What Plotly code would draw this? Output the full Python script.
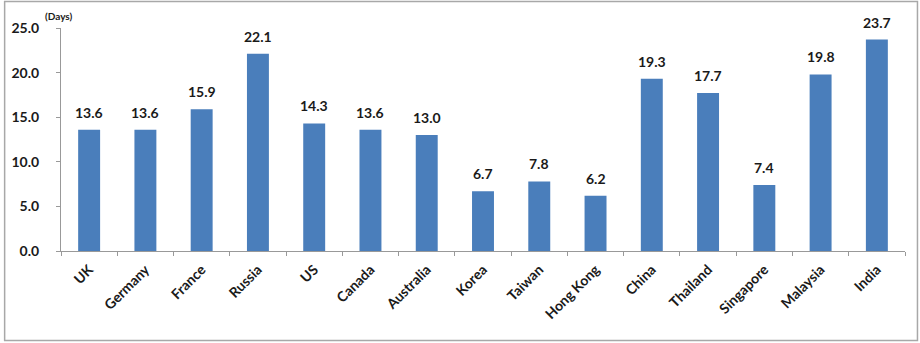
import plotly.graph_objects as go

categories = ["UK", "Germany", "France", "Russia", "US", "Canada", "Australia", "Korea",
              "Taiwan", "Hong Kong", "China", "Thailand", "Singapore", "Malaysia", "India"]
days = [13.6, 13.6, 15.9, 22.1, 14.3, 13.6, 13.0, 6.7, 7.8, 6.2, 19.3, 17.7, 7.4, 19.8, 23.7]
y_ticks = [0, 5, 10, 15, 20, 25]
y_tick_labels = ["0.0", "5.0", "10.0", "15.0", "20.0", "25.0"]

W, H = 920, 343
L, R, T, B = 59, 15, 28, 92
pw, ph = W - L - R, H - T - B

def px(x):
    return (x - L) / pw

def py(y):
    return (H - B - y) / ph

font = "Lato, 'Open Sans', Arial, sans-serif"

fig = go.Figure(go.Bar(
    x=categories, y=days,
    marker=dict(color="#4A7EBB", line=dict(width=0)),
    width=0.39,
))

annotations = [dict(x=c, y=v, xref="x", yref="y", text=f"{v:.1f}",
                    showarrow=False, yanchor="bottom", yshift=7,
                    font=dict(family=font, size=14, color="#1a1a1a", weight="bold"))
               for c, v in zip(categories, days)]
annotations.append(dict(text="(Days)", xref="paper", yref="paper",
                        x=px(41), y=py(16), xanchor="left", yanchor="middle",
                        showarrow=False,
                        font=dict(family=font, size=10, color="#1a1a1a", weight="bold")))

fig.update_layout(
    width=W, height=H,
    margin=dict(l=L, r=R, t=T, b=B),
    paper_bgcolor="white", plot_bgcolor="white",
    showlegend=False,
    xaxis=dict(
        type="category", tickangle=-45, tickson="boundaries",
        ticks="outside", ticklen=4, tickcolor="#999999",
        showline=True, linecolor="#999999", linewidth=1,
        showgrid=False, ticklabelstandoff=4,
        tickfont=dict(family=font, size=14, color="#1a1a1a", weight="bold"),
    ),
    yaxis=dict(
        range=[0, 25], tickvals=y_ticks, ticktext=y_tick_labels,
        ticks="outside", ticklen=4, tickcolor="#999999",
        showline=True, linecolor="#999999", linewidth=1,
        showgrid=False, zeroline=False, ticklabelstandoff=14,
        tickfont=dict(family=font, size=14, color="#1a1a1a", weight="bold"),
    ),
    shapes=[dict(type="rect", xref="paper", yref="paper",
                 x0=px(2.5), x1=px(917.5), y0=py(340.5), y1=py(1.5),
                 line=dict(color="#a8a8a8", width=1.5), fillcolor="rgba(0,0,0,0)",
                 layer="below")],
    annotations=annotations,
)

fig.write_html("out.html")
